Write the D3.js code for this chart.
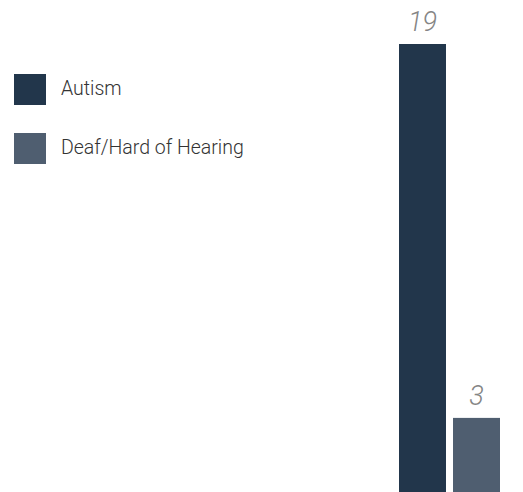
<!DOCTYPE html>
<html>
<head>
<meta charset="utf-8">
<script src="https://cdn.jsdelivr.net/npm/d3@7"></script>
<style>
  html, body { margin: 0; padding: 0; background: #fff; }
  svg { display: block; }
</style>
</head>
<body>
<svg id="chart" width="523" height="492"></svg>
<script>
const categories = ["Autism", "Deaf/Hard of Hearing"];
const values = [19, 3];
const colors = ["#22364b", "#4f5e70"];

const svg = d3.select("#chart");
const W = 523, H = 492;

const x = d3.scaleBand().domain(categories).range([399, 500]).paddingInner(0.13).paddingOuter(0);
const y = d3.scaleLinear().domain([0, 19]).range([488, 44]);
const color = d3.scaleOrdinal().domain(categories).range(colors);

const data = categories.map((c, i) => ({ c, v: values[i] }));

svg.selectAll("rect.bar").data(data).join("rect")
  .attr("class", "bar")
  .attr("x", d => x(d.c))
  .attr("y", d => y(d.v))
  .attr("width", x.bandwidth())
  .attr("height", d => H - y(d.v))
  .attr("fill", d => color(d.c));

svg.selectAll("text.val").data(data).join("text")
  .attr("class", "val")
  .attr("x", d => x(d.c) + x.bandwidth() / 2)
  .attr("y", d => y(d.v) - 13)
  .attr("text-anchor", "middle")
  .attr("font-family", "Roboto, sans-serif")
  .attr("font-weight", 300)
  .attr("font-style", "italic")
  .attr("font-size", 27)
  .attr("fill", "#858585")
  .text(d => d.v);

const leg = svg.append("g");
const items = leg.selectAll("g").data(categories).join("g")
  .attr("transform", (d, i) => `translate(14, ${74 + i * 59})`);
items.append("rect")
  .attr("width", 32).attr("height", 31)
  .attr("fill", d => color(d));
items.append("text")
  .attr("x", 47).attr("y", 21)
  .attr("font-family", "Roboto, sans-serif")
  .attr("font-weight", 300)
  .attr("font-size", 19.5)
  .attr("fill", "#333")
  .text(d => d);
</script>
</body>
</html>
